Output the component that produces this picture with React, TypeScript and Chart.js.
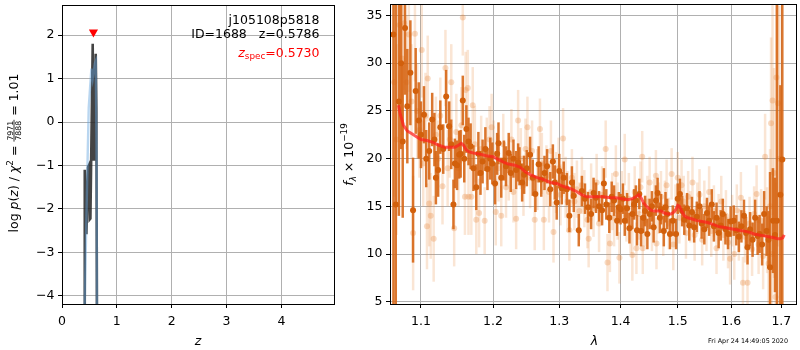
import React, { useEffect, useRef } from 'react';
import { Chart, registerables } from 'chart.js';
Chart.register(...registerables);

// ---------------- Left panel: p(z) ----------------
const pzDarkZ = [0.400, 0.412, 0.415, 0.445, 0.474, 0.492, 0.505, 0.518, 0.560, 0.573, 0.584, 0.615, 0.627, 0.640, 0.652];
const pzDarkLogP = [-12, -6.0, -1.10, -2.58, -1.04, -0.99, -2.24, -2.22, 1.80, -0.86, -0.86, 1.57, 0.28, -6.0, -12];
const pzBlueZ = [0.400, 0.414, 0.463, 0.487, 0.536, 0.560, 0.600, 0.615, 0.630, 0.642, 0.655];
const pzBlueLogP = [-12, -4.2, -1.08, 0.32, 1.23, 1.0, 1.35, 1.40, -0.5, -6, -12];
const zSpec = 0.573;
const zSpecMarkerLogP = 2.07;
const pzXTicks = [0, 1, 2, 3, 4];
const pzYTicks = [-4, -3, -2, -1, 0, 1, 2];

// ---------------- Right panel: spectrum ----------------
const darkLam = [
  1.064, 1.067, 1.071, 1.074, 1.076, 1.079, 1.082, 1.086, 1.0895, 1.093,
  1.097, 1.100, 1.104, 1.107, 1.111, 1.115, 1.118, 1.120, 1.123, 1.126,
  1.130, 1.134, 1.138, 1.141, 1.144, 1.146, 1.149, 1.152, 1.154, 1.157,
  1.159, 1.162, 1.165, 1.168, 1.172, 1.176, 1.179, 1.182, 1.185, 1.189,
  1.192, 1.196, 1.199, 1.203, 1.206, 1.208, 1.212, 1.216, 1.219, 1.223,
  1.226, 1.230, 1.234, 1.237, 1.239, 1.243, 1.246, 1.250, 1.255, 1.259,
  1.263, 1.268, 1.272, 1.277, 1.281, 1.286, 1.290, 1.293, 1.296, 1.300,
  1.304, 1.307, 1.312, 1.316, 1.320, 1.323, 1.331, 1.336, 1.341, 1.346,
  1.351, 1.355, 1.359, 1.364, 1.369, 1.372, 1.376, 1.381, 1.385, 1.389,
  1.394, 1.397, 1.400, 1.404, 1.407, 1.411, 1.415, 1.420, 1.423, 1.426,
  1.428, 1.432, 1.435, 1.439, 1.442, 1.446, 1.450, 1.454, 1.457, 1.461,
  1.464, 1.468, 1.470, 1.475, 1.478, 1.481, 1.486, 1.491, 1.497, 1.500,
  1.504, 1.508, 1.512, 1.517, 1.521, 1.526, 1.530, 1.535, 1.540, 1.544,
  1.549, 1.554, 1.558, 1.563, 1.567, 1.572, 1.576, 1.580, 1.584, 1.589,
  1.594, 1.599, 1.605, 1.610, 1.615, 1.620, 1.625, 1.629, 1.632, 1.637,
  1.642, 1.647, 1.652, 1.656, 1.661, 1.665, 1.670, 1.674, 1.677, 1.683,
  1.687, 1.691, 1.698, 1.702,
];
const darkFlux = [
  33.0, 15.2, 26.0, 30.0, 21.8, 33.7, 25.5, 29.0, 14.6, 27.1,
  24.0, 22.5, 24.6, 20.0, 20.8, 24.1, 22.0, 18.0, 18.8, 23.3,
  21.0, 26.5, 23.4, 21.5, 15.2, 19.5, 19.3, 20.4, 20.5, 26.1,
  20.0, 23.1, 21.8, 21.3, 19.0, 17.0, 20.5, 18.5, 19.7, 21.0,
  18.9, 20.0, 19.5, 17.4, 20.5, 21.6, 18.0, 19.8, 19.2, 20.6,
  18.5, 20.0, 18.8, 19.6, 19.2, 17.5, 18.3, 19.0, 20.4, 18.0,
  16.3, 19.4, 17.8, 18.5, 19.2, 16.8, 19.7, 17.5, 15.4, 18.7,
  16.9, 18.0, 16.8, 14.0, 17.5, 16.1, 12.5, 16.6, 15.8, 14.9,
  14.2, 16.4, 15.9, 15.0, 14.6, 17.4, 15.2, 13.8, 16.0, 15.6,
  13.5, 14.9, 14.7, 15.8, 13.5, 14.8, 12.7, 14.2, 15.2, 15.6,
  12.5, 16.3, 12.4, 13.8, 14.5, 12.1, 14.2, 15.0, 12.8, 15.6,
  16.4, 13.8, 14.7, 12.4, 14.9, 14.2, 12.1, 13.5, 12.1, 15.8,
  16.3, 14.5, 13.6, 14.8, 13.0, 14.4, 12.8, 13.9, 15.0, 13.2,
  12.6, 14.3, 13.5, 15.2, 12.9, 13.8, 12.2, 13.0, 14.2, 12.6,
  12.1, 13.4, 13.5, 12.5, 11.8, 12.9, 14.0, 12.2, 10.7, 12.6,
  11.5, 13.8, 11.9, 12.1, 11.0, 14.2, 12.4, 11.5, 8.6, 13.5,
  12.0, 13.5, 16.2, 19.9,
];
const darkErr = [
  30, 25, 12, 9, 8, 7, 6, 5.5, 5.5, 4.5,
  4, 3.5, 3, 3, 3, 2.8, 2.8, 2.8, 2.8, 2.8,
  2.6, 2.8, 2.6, 2.6, 2.6, 2.6, 2.6, 2.5, 2.5, 2.6,
  2.5, 2.5, 2.5, 2.4, 2.4, 2.4, 2.3, 2.3, 2.3, 2.3,
  2.2, 2.2, 2.2, 2.2, 2.2, 2.2, 2.1, 2.1, 2.1, 2.1,
  2.0, 2.0, 2.0, 2.0, 2.0, 2.0, 2.0, 1.9, 1.9, 1.9,
  1.9, 1.9, 1.8, 1.8, 1.8, 1.8, 1.8, 1.8, 1.8, 1.8,
  1.7, 1.7, 1.7, 1.7, 1.7, 1.7, 1.7, 1.6, 1.6, 1.6,
  1.6, 1.6, 1.6, 1.6, 1.6, 1.6, 1.6, 1.6, 1.6, 1.6,
  1.6, 1.6, 1.6, 1.6, 1.6, 1.6, 1.6, 1.6, 1.6, 1.6,
  1.6, 1.6, 1.6, 1.6, 1.6, 1.6, 1.6, 1.6, 1.6, 1.6,
  1.6, 1.6, 1.6, 1.6, 1.6, 1.6, 1.6, 1.6, 1.6, 1.6,
  1.6, 1.6, 1.6, 1.6, 1.6, 1.6, 1.6, 1.6, 1.6, 1.6,
  1.6, 1.6, 1.6, 1.6, 1.6, 1.6, 1.6, 1.6, 1.6, 1.6,
  1.6, 1.6, 1.6, 1.6, 1.6, 1.7, 1.7, 1.7, 1.8, 1.8,
  1.8, 1.9, 2.0, 2.0, 2.2, 2.4, 2.6, 3.0, 10, 5.5,
  6, 30, 11.5, 30,
];

const lightLam = [
  1.065, 1.068, 1.072, 1.075, 1.078, 1.081, 1.084, 1.0875, 1.0896, 1.092,
  1.095, 1.098, 1.101, 1.103, 1.106, 1.108, 1.109, 1.111, 1.113, 1.117,
  1.120, 1.123, 1.126, 1.129, 1.133, 1.136, 1.139, 1.141, 1.145, 1.148,
  1.151, 1.155, 1.157, 1.160, 1.161, 1.164, 1.165, 1.169, 1.171, 1.174,
  1.176, 1.180, 1.183, 1.188, 1.191, 1.195, 1.198, 1.201, 1.204, 1.208,
  1.212, 1.215, 1.219, 1.223, 1.227, 1.230, 1.234, 1.237, 1.241, 1.245,
  1.248, 1.251, 1.255, 1.258, 1.262, 1.266, 1.270, 1.273, 1.276, 1.280,
  1.284, 1.287, 1.291, 1.295, 1.299, 1.302, 1.306, 1.310, 1.313, 1.316,
  1.320, 1.324, 1.328, 1.332, 1.336, 1.340, 1.345, 1.347, 1.351, 1.355,
  1.360, 1.364, 1.369, 1.375, 1.378, 1.382, 1.386, 1.389, 1.392, 1.395,
  1.398, 1.402, 1.407, 1.410, 1.414, 1.417, 1.420, 1.424, 1.427, 1.431,
  1.434, 1.437, 1.438, 1.442, 1.446, 1.450, 1.454, 1.458, 1.461, 1.462,
  1.466, 1.470, 1.474, 1.477, 1.480, 1.484, 1.489, 1.492, 1.496, 1.500,
  1.503, 1.507, 1.511, 1.515, 1.519, 1.523, 1.527, 1.531, 1.536, 1.540,
  1.545, 1.549, 1.553, 1.558, 1.562, 1.567, 1.572, 1.576, 1.581, 1.585,
  1.590, 1.594, 1.598, 1.602, 1.606, 1.611, 1.615, 1.619, 1.623, 1.627,
  1.632, 1.636, 1.641, 1.645, 1.650, 1.654, 1.659, 1.663, 1.667, 1.671,
  1.674, 1.677, 1.679, 1.681, 1.682, 1.685, 1.688, 1.690, 1.693, 1.696,
];
const lightFlux = [
  28.0, 22.0, 34.0, 30.5, 34.2, 28.0, 33.0, 26.0, 12.2, 33.1,
  25.0, 23.0, 31.4, 19.5, 24.5, 12.9, 28.4, 15.3, 14.0, 11.6,
  22.5, 20.0, 24.5, 17.1, 29.5, 19.0, 22.0, 28.0, 12.7, 22.8,
  19.0, 23.5, 34.8, 16.0, 27.2, 27.4, 16.0, 16.0, 25.6, 21.5,
  13.6, 14.3, 21.0, 13.5, 20.8, 22.0, 23.3, 20.5, 14.4, 19.0,
  14.0, 21.5, 17.0, 18.8, 22.0, 16.5, 13.7, 24.0, 20.0, 17.2,
  21.0, 23.3, 18.0, 20.8, 13.6, 17.8, 23.1, 19.5, 13.6, 18.2,
  16.5, 20.8, 12.3, 17.5, 19.0, 16.2, 22.1, 17.0, 15.5, 12.5,
  18.0, 15.5, 16.8, 14.5, 17.2, 15.8, 13.6, 11.6, 16.5, 14.8,
  17.5, 13.2, 16.2, 21.0, 9.1, 11.1, 15.5, 13.8, 18.4, 14.5,
  9.6, 16.0, 19.9, 14.0, 15.8, 12.8, 9.9, 16.5, 10.6, 14.2,
  17.0, 20.2, 10.6, 13.5, 15.5, 17.5, 13.0, 15.2, 18.2, 11.1,
  14.8, 16.0, 12.5, 15.0, 17.2, 13.2, 18.4, 11.0, 14.6, 18.0,
  13.8, 17.2, 15.5, 12.2, 16.0, 13.9, 17.5, 12.0, 14.8, 16.2,
  11.5, 15.0, 13.0, 16.5, 12.4, 14.5, 10.6, 13.6, 15.5, 12.0,
  14.0, 11.2, 9.5, 13.5, 10.0, 14.6, 12.0, 15.9, 7.0, 11.8,
  7.0, 13.2, 10.5, 14.2, 16.3, 11.0, 13.5, 9.8, 20.2, 12.5,
  9.0, 15.0, 23.7, 10.0, 26.1, 18.5, 5.5, 28.5, 25.8, 20.0,
];
const lightErr = [
  12, 10, 9, 8, 7, 7, 6, 6, 6, 5,
  5, 5, 5, 4.5, 4.5, 4.5, 4.5, 4.5, 4.5, 4.5,
  4, 4, 4, 4, 4, 4, 4, 4, 4, 4,
  4, 4, 4, 4, 4, 4, 4, 4, 4, 4,
  3.6, 3.6, 3.5, 3.5, 3.5, 3.5, 3.5, 3.5, 3.5, 3.5,
  3.2, 3.2, 3.2, 3.2, 3.2, 3.2, 3.2, 3.2, 3.2, 3.2,
  3.2, 3.2, 3.2, 3.2, 3.2, 3.2, 3.2, 3.2, 3.2, 3.2,
  3.2, 3.2, 3.2, 3.2, 3.2, 3.2, 3.2, 3.2, 3.2, 3.2,
  3.0, 3.0, 3.0, 3.0, 3.0, 3.0, 3.0, 3.0, 3.0, 3.0,
  3.0, 3.0, 3.0, 3.0, 3.0, 3.0, 3.0, 3.0, 3.0, 3.0,
  2.7, 2.7, 2.7, 2.7, 2.7, 2.7, 2.7, 2.7, 2.7, 2.7,
  2.7, 2.7, 2.7, 2.7, 2.7, 2.7, 2.7, 2.7, 2.7, 2.7,
  2.7, 2.7, 2.7, 2.7, 2.7, 2.7, 2.7, 2.7, 2.7, 2.7,
  2.7, 2.7, 2.7, 2.7, 2.7, 2.7, 2.7, 2.7, 2.7, 2.7,
  2.7, 2.7, 2.7, 2.7, 2.7, 2.7, 2.7, 2.7, 2.7, 2.7,
  2.7, 2.7, 2.7, 2.7, 2.7, 2.7, 2.7, 2.7, 2.7, 2.7,
  2.8, 2.8, 2.8, 2.9, 3.0, 3.1, 3.3, 3.5, 4.5, 4.5,
  5, 6, 9, 9, 12, 11, 12, 15, 15, 16,
];

const modelLam = [
  1.0705, 1.073, 1.077, 1.082, 1.088, 1.094, 1.100, 1.108, 1.116, 1.124,
  1.132, 1.140, 1.146, 1.151, 1.155, 1.158, 1.162, 1.166, 1.172, 1.180,
  1.190, 1.200, 1.208, 1.216, 1.224, 1.232, 1.240, 1.248, 1.256, 1.266,
  1.276, 1.286, 1.296, 1.306, 1.316, 1.326, 1.336, 1.344, 1.352, 1.362,
  1.372, 1.382, 1.392, 1.402, 1.412, 1.420, 1.426, 1.431, 1.435, 1.440,
  1.446, 1.452, 1.458, 1.464, 1.470, 1.476, 1.482, 1.488, 1.493, 1.497,
  1.500, 1.503, 1.507, 1.512, 1.518, 1.525, 1.535, 1.545, 1.555, 1.565,
  1.575, 1.585, 1.595, 1.605, 1.615, 1.625, 1.635, 1.645, 1.655, 1.665,
  1.675, 1.685, 1.692, 1.698, 1.703, 1.706,
];
const modelFlux = [
  25.6, 24.6, 23.5, 22.9, 22.6, 22.3, 22.0, 21.9, 21.7, 21.4,
  21.2, 21.2, 21.2, 21.4, 21.6, 21.4, 20.9, 20.7, 20.6, 20.5,
  20.3, 20.2, 19.9, 19.6, 19.4, 19.3, 19.1, 18.6, 18.3, 18.0,
  17.8, 17.5, 17.4, 17.1, 16.9, 16.6, 16.2, 16.0, 16.0, 16.0,
  16.0, 15.9, 15.9, 15.8, 15.7, 15.8, 16.0, 16.2, 15.9, 15.3,
  14.9, 14.6, 14.5, 14.5, 14.5, 14.3, 14.2, 14.2, 14.4, 14.7,
  15.1, 15.0, 14.5, 14.0, 13.8, 13.7, 13.5, 13.4, 13.3, 13.1,
  12.9, 12.8, 12.7, 12.6, 12.5, 12.4, 12.3, 12.1, 12.0, 11.9,
  11.8, 11.7, 11.6, 11.6, 11.7, 12.0,
];
const specXTicks = [1.1, 1.2, 1.3, 1.4, 1.5, 1.6, 1.7];
const specYTicks = [5, 10, 15, 20, 25, 30, 35];

const objName = 'j105108p5818';
const idLine = 'ID=1688   z=0.5786';
const zSpecLabel = '=0.5730';
const dateText = 'Fri Apr 24 14:49:05 2020';

// ---------------- helpers ----------------
const FAM = '"DejaVu Sans", sans-serif';
const fnt = (size: number, style = 'normal') => `${style} ${size}px ${FAM}`;
const fmt = (v: number) => (v < 0 ? '\u2212' + String(Math.abs(v)) : String(v));

function zip(xs: number[], ys: number[]) {
  const n = Math.min(xs.length, ys.length);
  const out: { x: number; y: number }[] = [];
  for (let i = 0; i < n; i++) out.push({ x: xs[i], y: ys[i] });
  return out;
}

type Part = { t: string; font: string; dy?: number; color?: string };
function partsWidth(ctx: CanvasRenderingContext2D, parts: Part[]) {
  let w = 0;
  for (const p of parts) { ctx.font = p.font; w += ctx.measureText(p.t).width; }
  return w;
}
function drawParts(ctx: CanvasRenderingContext2D, parts: Part[], x: number, y: number) {
  let cx = x;
  for (const p of parts) {
    ctx.font = p.font;
    ctx.fillStyle = p.color || '#000';
    ctx.fillText(p.t, cx, y + (p.dy || 0));
    cx += ctx.measureText(p.t).width;
  }
  return cx;
}

const errorBars = {
  id: 'errorBars',
  beforeDatasetDraw(chart: any, args: any) {
    const ds = chart.data.datasets[args.index];
    if (!ds.yErr) return;
    const { ctx, chartArea: a, scales } = chart;
    const xs = scales.x, ys = scales.y;
    ctx.save();
    ctx.beginPath();
    ctx.rect(a.left, a.top, a.right - a.left, a.bottom - a.top);
    ctx.clip();
    ctx.strokeStyle = ds.errColor;
    ctx.lineWidth = ds.errWidth;
    ds.data.forEach((p: any, i: number) => {
      const e = ds.yErr[i];
      if (e === undefined) return;
      const px = xs.getPixelForValue(p.x);
      ctx.beginPath();
      ctx.moveTo(px, ys.getPixelForValue(p.y - e));
      ctx.lineTo(px, ys.getPixelForValue(p.y + e));
      ctx.stroke();
    });
    ctx.restore();
  },
};

const frame = {
  id: 'frame',
  afterDatasetsDraw(chart: any) {
    const { ctx, chartArea: a } = chart;
    ctx.save();
    ctx.strokeStyle = '#000';
    ctx.lineWidth = 1;
    ctx.strokeRect(Math.floor(a.left) + 0.5, Math.floor(a.top) + 0.5, Math.round(a.right - a.left), Math.round(a.bottom - a.top));
    ctx.restore();
  },
};

function axisBase(ticksArr: number[], fitFn: (s: any) => void, labelFmt: (v: number) => string, pad: number) {
  return {
    grid: { color: '#b0b0b0', lineWidth: 1, tickColor: '#000', tickLength: 4, tickWidth: 1, drawTicks: true },
    border: { display: false },
    ticks: {
      color: '#000',
      font: { family: FAM, size: 12.5 },
      padding: pad,
      autoSkip: false,
      maxRotation: 0,
      minRotation: 0,
      callback: (v: any) => labelFmt(Number(v)),
    },
    afterBuildTicks: (s: any) => { s.ticks = ticksArr.map((v) => ({ value: v })); },
    afterFit: (s: any) => { fitFn(s); s.paddingTop = 0; s.paddingBottom = 0; s.paddingLeft = 0; s.paddingRight = 0; },
  };
}

const leftText = {
  id: 'leftText',
  afterDraw(chart: any) {
    const ctx: CanvasRenderingContext2D = chart.ctx;
    ctx.save();
    ctx.textAlign = 'left';
    ctx.textBaseline = 'alphabetic';
    const R = 319.5;
    const l1: Part[] = [{ t: objName, font: fnt(12.5) }];
    drawParts(ctx, l1, R - partsWidth(ctx, l1), 24);
    const l2: Part[] = [{ t: idLine, font: fnt(12.5) }];
    drawParts(ctx, l2, R - partsWidth(ctx, l2), 37.8);
    const l3: Part[] = [
      { t: 'z', font: fnt(12.5, 'italic'), color: '#ff0000' },
      { t: 'spec', font: fnt(8.8), dy: 2.6, color: '#ff0000' },
      { t: zSpecLabel, font: fnt(12.5), color: '#ff0000' },
    ];
    drawParts(ctx, l3, R - partsWidth(ctx, l3), 56.5);

    // x title
    ctx.font = fnt(12.5, 'italic');
    ctx.fillStyle = '#000';
    ctx.textAlign = 'center';
    ctx.fillText('z', 198, 345);
    ctx.textAlign = 'left';

    // y title with fraction
    ctx.translate(17.5, 153);
    ctx.rotate(-Math.PI / 2);
    const pre: Part[] = [
      { t: 'log ', font: fnt(12.5) },
      { t: 'p', font: fnt(12.5, 'italic') },
      { t: '(', font: fnt(12.5) },
      { t: 'z', font: fnt(12.5, 'italic') },
      { t: ') / ', font: fnt(12.5) },
      { t: '\u03c7', font: fnt(12.5, 'italic') },
      { t: '2', font: fnt(8.8), dy: -5 },
      { t: ' = ', font: fnt(12.5) },
    ];
    const post: Part[] = [{ t: ' = 1.01', font: fnt(12.5) }];
    const fracFont = fnt(7.8);
    ctx.font = fracFont;
    const wn = ctx.measureText('7971').width;
    const wd = ctx.measureText('7888').width;
    const wf = Math.max(wn, wd) + 2;
    const total = partsWidth(ctx, pre) + wf + partsWidth(ctx, post);
    let x = -total / 2;
    x = drawParts(ctx, pre, x, 0);
    ctx.font = fracFont;
    ctx.fillStyle = '#000';
    ctx.fillText('7971', x + (wf - wn) / 2, -4.6);
    ctx.fillRect(x, -3.9, wf, 0.8);
    ctx.fillText('7888', x + (wf - wd) / 2, 3.2);
    x += wf;
    drawParts(ctx, post, x, 0);
    ctx.restore();
  },
};

const rightText = {
  id: 'rightText',
  afterDraw(chart: any) {
    const ctx: CanvasRenderingContext2D = chart.ctx;
    ctx.save();
    ctx.textBaseline = 'alphabetic';
    ctx.fillStyle = '#000';
    ctx.font = fnt(12.5, 'italic');
    ctx.textAlign = 'center';
    ctx.fillText('\u03bb', 594.5, 345);
    ctx.font = fnt(6.4);
    ctx.textAlign = 'right';
    ctx.fillText(dateText, 788, 343);
    ctx.textAlign = 'left';
    ctx.translate(353.3, 154.5);
    ctx.rotate(-Math.PI / 2);
    const parts: Part[] = [
      { t: 'f', font: fnt(12.5, 'italic') },
      { t: '\u03bb', font: fnt(8.8, 'italic'), dy: 2.6 },
      { t: ' \u00d7 10', font: fnt(12.5) },
      { t: '\u221219', font: fnt(8.8), dy: -6 },
    ];
    drawParts(ctx, parts, -partsWidth(ctx, parts) / 2, 0);
    ctx.restore();
  },
};

function leftConfig(): any {
  return {
    type: 'scatter',
    data: {
      datasets: [
        {
          data: zip(pzDarkZ, pzDarkLogP), showLine: true, pointRadius: 0,
          borderColor: 'rgba(35,35,35,0.85)', borderWidth: 2.6, order: 3,
        },
        {
          data: zip(pzBlueZ, pzBlueLogP), showLine: true, pointRadius: 0,
          borderColor: 'rgba(100,165,222,0.45)', borderWidth: 2.4, order: 2,
        },
        {
          data: [{ x: zSpec, y: zSpecMarkerLogP }], pointStyle: 'triangle', rotation: 180,
          pointRadius: 5.3, backgroundColor: '#ff0000', borderColor: '#ff0000', borderWidth: 0, order: 1,
        },
      ],
    },
    options: {
      responsive: false, animation: false, devicePixelRatio: 1, events: [],
      layout: { padding: { left: 0, right: 466, top: 1, bottom: 0 } },
      plugins: { legend: { display: false }, tooltip: { enabled: false } },
      scales: {
        x: { type: 'linear', min: 0, max: 4.96, ...axisBase(pzXTicks, (s) => { s.height = 46; }, fmt, 6) },
        y: { type: 'linear', min: -4.188, max: 2.6875, ...axisBase(pzYTicks, (s) => { s.width = 62; }, fmt, 3.5) },
      },
    },
    plugins: [errorBars, frame, leftText],
  };
}

function rightConfig(): any {
  return {
    type: 'scatter',
    data: {
      datasets: [
        {
          data: zip(lightLam, lightFlux), yErr: lightErr, errColor: 'rgba(232,135,60,0.22)', errWidth: 2.5,
          pointRadius: 3, backgroundColor: 'rgba(232,135,60,0.3)', borderWidth: 0, order: 3,
        },
        {
          data: zip(darkLam, darkFlux), yErr: darkErr, errColor: 'rgba(214,100,18,0.88)', errWidth: 2.5,
          pointRadius: 3, backgroundColor: '#d2600c', borderWidth: 0, order: 2,
        },
        {
          data: zip(modelLam, modelFlux), showLine: true, pointRadius: 0,
          borderColor: 'rgba(255,30,30,0.72)', borderWidth: 3, order: 1,
        },
      ],
    },
    options: {
      responsive: false, animation: false, devicePixelRatio: 1, events: [],
      layout: { padding: { left: 335, right: 1, top: 1, bottom: 0 } },
      plugins: { legend: { display: false }, tooltip: { enabled: false } },
      scales: {
        x: { type: 'logarithmic', min: 1.0596, max: 1.7304, ...axisBase(specXTicks, (s) => { s.height = 46; }, (v) => v.toFixed(1), 6) },
        y: { type: 'linear', min: 4.76, max: 36.21, ...axisBase(specYTicks, (s) => { s.width = 55; }, fmt, 3.5) },
      },
    },
    plugins: [errorBars, frame, rightText],
  };
}

export default function App() {
  const leftRef = useRef<HTMLCanvasElement>(null);
  const rightRef = useRef<HTMLCanvasElement>(null);
  useEffect(() => {
    const c1 = new Chart(leftRef.current as HTMLCanvasElement, leftConfig());
    const c2 = new Chart(rightRef.current as HTMLCanvasElement, rightConfig());
    return () => { c1.destroy(); c2.destroy(); };
  }, []);
  const cs: React.CSSProperties = { position: 'absolute', left: 0, top: 0, width: 800, height: 350 };
  return (
    <div style={{ position: 'fixed', left: 0, top: 0, width: 800, height: 350, background: '#fff' }}>
      <canvas ref={leftRef} width={800} height={350} style={cs} />
      <canvas ref={rightRef} width={800} height={350} style={cs} />
    </div>
  );
}
